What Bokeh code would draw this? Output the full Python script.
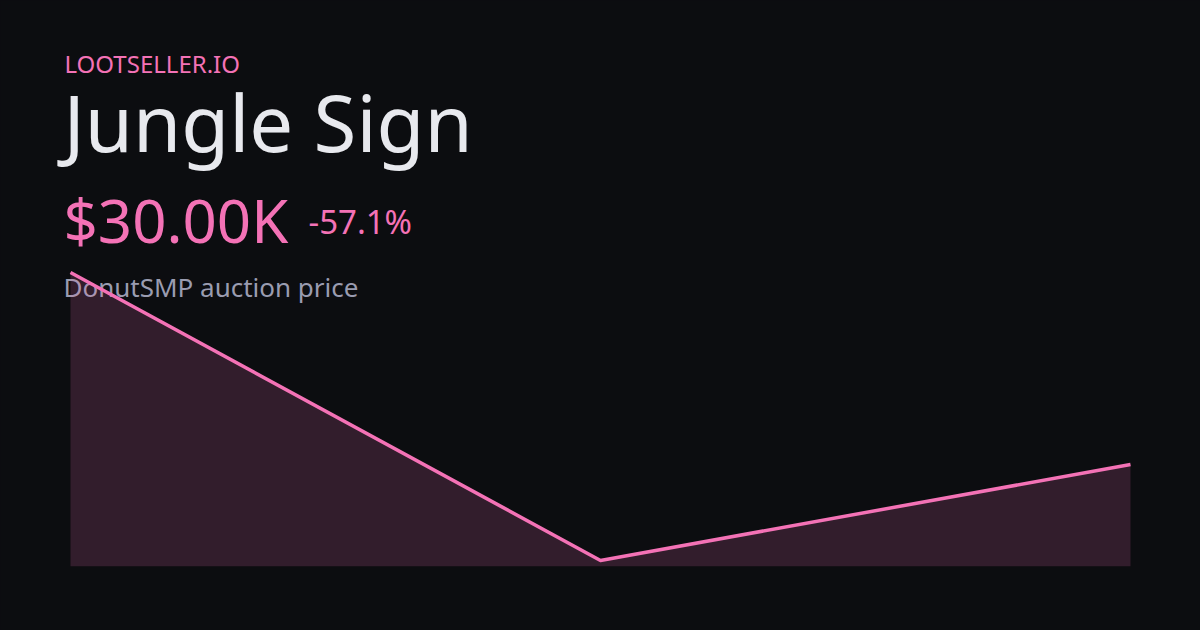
from bokeh.plotting import figure
from bokeh.models import Label, Range1d, ColumnDataSource, GlobalInlineStyleSheet
from bokeh.embed import file_html
from bokeh.resources import INLINE

# Data
idx = [0, 1, 2]
prices = [70000, 10000, 30000]
brand = "LOOTSELLER.IO"
title = "Jungle Sign"
price_label = "$30.00K"
change_label = "-57.1%"
subtitle = "DonutSMP auction price"

BG = "#0c0d10"
PINK = "#f472b6"
WHITE = "#e8e9ee"
GRAY = "#9a9cb0"

W, H = 1200, 630
ppu_x = 530.0
x0 = 70.0
units_per_px = 40000 / 192.0
top_val = prices[0] + 272 * units_per_px

p = figure(width=W, height=H, output_backend="svg", toolbar_location=None,
           x_range=Range1d(-x0 / ppu_x, idx[-1] + (W - x0 - 2 * ppu_x) / ppu_x),
           y_range=Range1d(top_val - H * units_per_px, top_val),
           min_border=0, background_fill_color=BG, border_fill_color=BG,
           outline_line_color=None)
p.axis.visible = False
p.grid.visible = False
p.stylesheets = [GlobalInlineStyleSheet(css="html, body { background: %s; }" % BG)]

base = min(prices) - 0.02 * (max(prices) - min(prices))
src = ColumnDataSource(dict(x=idx, y=prices, b=[base] * len(idx)))

def lab(text, x, baseline_page, size, color):
    p.add_layout(Label(x=x, y=H - (baseline_page - 0.4 * size), x_units="screen", y_units="screen",
                       text=text, text_font="Noto Sans", text_font_size=f"{size}px",
                       text_color=color, text_baseline="alphabetic", level="underlay"))

lab(brand, 64, 73, 24, PINK)
lab(title, 63, 153, 78, WHITE)
lab(price_label, 63, 243, 60, PINK)
lab(change_label, 308, 234, 33, PINK)
lab(subtitle, 63, 297, 26, GRAY)

p.varea(x="x", y1="b", y2="y", source=src, fill_color=PINK, fill_alpha=0.17)
p.line(x="x", y="y", source=src, line_color=PINK, line_width=3.5, line_join="round")

open("out.html", "w").write(file_html(p, INLINE))
